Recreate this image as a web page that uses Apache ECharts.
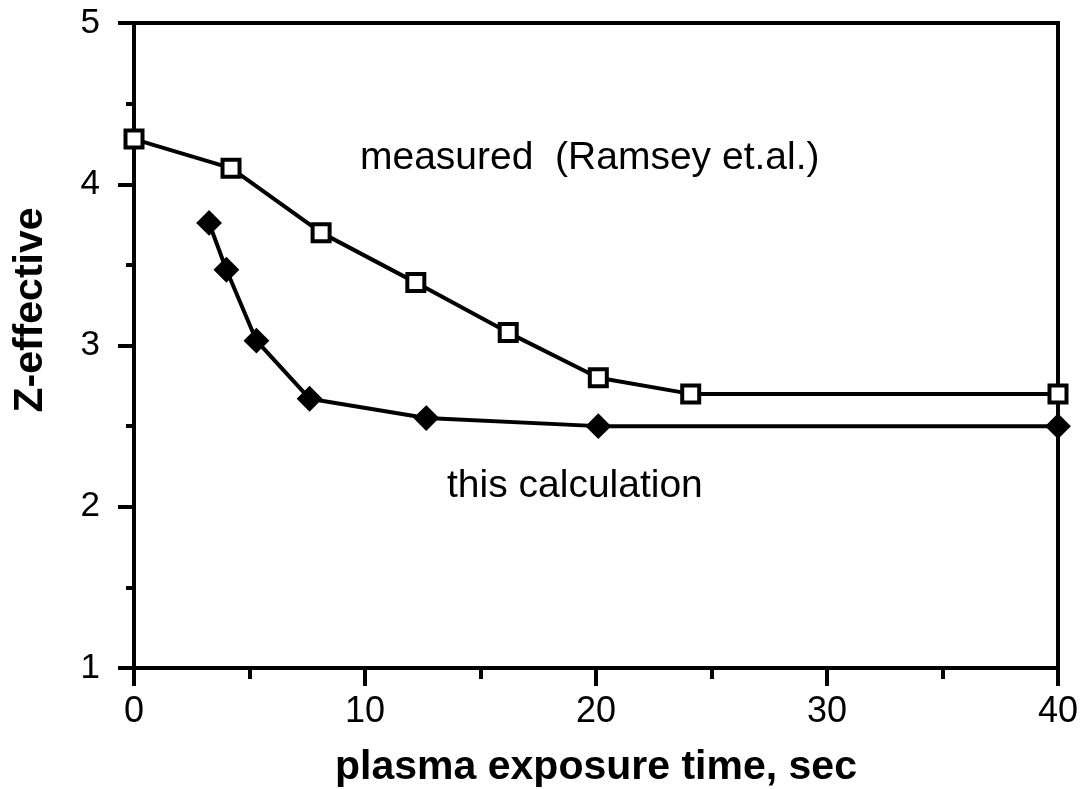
<!DOCTYPE html>
<html lang="en">
<head>
    <meta charset="UTF-8">
    <title>Z-effective vs plasma exposure time</title>
    <script src="https://cdn.jsdelivr.net/npm/echarts@6/dist/echarts.min.js"></script>
    <style>
        html, body { margin: 0; padding: 0; background: #fff; }
        #chart { width: 1085px; height: 789px; }
    </style>
</head>
<body>
    <div id="chart"></div>
    <script>
        // measured (Ramsey et.al.) - open squares
        const measuredX = [0, 4.2, 8.1, 12.2, 16.2, 20.1, 24.1, 40];
        const measuredY = [4.28, 4.10, 3.70, 3.39, 3.08, 2.80, 2.70, 2.70];
        // this calculation - filled diamonds
        const calcX = [3.25, 4.0, 5.3, 7.6, 12.65, 20.1, 40];
        const calcY = [3.76, 3.47, 3.03, 2.67, 2.55, 2.50, 2.50];

        const pairs = (xs, ys) => xs.map((x, i) => [x, ys[i]]);

        const font = '"Liberation Sans", Arial, Helvetica, sans-serif';
        const chart = echarts.init(document.getElementById('chart'));

        chart.setOption({
            animation: false,
            grid: {
                left: 134, right: 27, top: 23, bottom: 121,
                outerBoundsMode: 'none',
                containLabel: false,
                show: true,
                borderColor: '#000',
                borderWidth: 4
            },
            xAxis: {
                type: 'value',
                min: 0, max: 40, interval: 10,
                axisLine: { lineStyle: { color: '#000', width: 4 } },
                axisTick: { show: true, length: 18, lineStyle: { color: '#000', width: 4 } },
                minorTick: { show: true, splitNumber: 2, length: 11, lineStyle: { color: '#000', width: 4 } },
                splitLine: { show: false },
                axisLabel: { color: '#000', fontSize: 36, fontFamily: font, margin: 26 },
                name: 'plasma exposure time, sec',
                nameLocation: 'middle',
                nameGap: 79,
                nameTextStyle: { color: '#000', fontSize: 41, fontWeight: 'bold', fontFamily: font }
            },
            yAxis: {
                type: 'value',
                min: 1, max: 5, interval: 1,
                axisLine: { lineStyle: { color: '#000', width: 4 } },
                axisTick: { show: true, length: 16, lineStyle: { color: '#000', width: 4 } },
                minorTick: { show: true, splitNumber: 2, length: 8, lineStyle: { color: '#000', width: 4 } },
                splitLine: { show: false },
                axisLabel: { color: '#000', fontSize: 35, fontFamily: font, margin: 34 }
            },
            series: [
                {
                    name: 'measured (Ramsey et.al.)',
                    type: 'line',
                    data: pairs(measuredX, measuredY),
                    lineStyle: { color: '#000', width: 4 },
                    symbol: 'rect',
                    symbolSize: 17,
                    itemStyle: { color: '#fff', borderColor: '#000', borderWidth: 4 },
                    z: 3
                },
                {
                    name: 'this calculation',
                    type: 'line',
                    data: pairs(calcX, calcY),
                    lineStyle: { color: '#000', width: 4 },
                    symbol: 'diamond',
                    symbolSize: 23,
                    itemStyle: { color: '#000', borderColor: '#000', borderWidth: 2 },
                    z: 3
                }
            ],
            graphic: [
                {
                    type: 'text', x: 360, y: 158,
                    style: { text: 'measured  (Ramsey et.al.)', fill: '#000', font: '39px ' + font,
                             verticalAlign: 'middle' }
                },
                {
                    type: 'text', x: 447, y: 486,
                    style: { text: 'this calculation', fill: '#000', font: '39px ' + font,
                             verticalAlign: 'middle' }
                },
                {
                    type: 'text', x: 31, y: 310, rotation: Math.PI / 2,
                    style: { text: 'Z-effective', fill: '#000', font: 'bold 41px ' + font,
                             align: 'center', verticalAlign: 'middle' }
                }
            ]
        });
    </script>
</body>
</html>
